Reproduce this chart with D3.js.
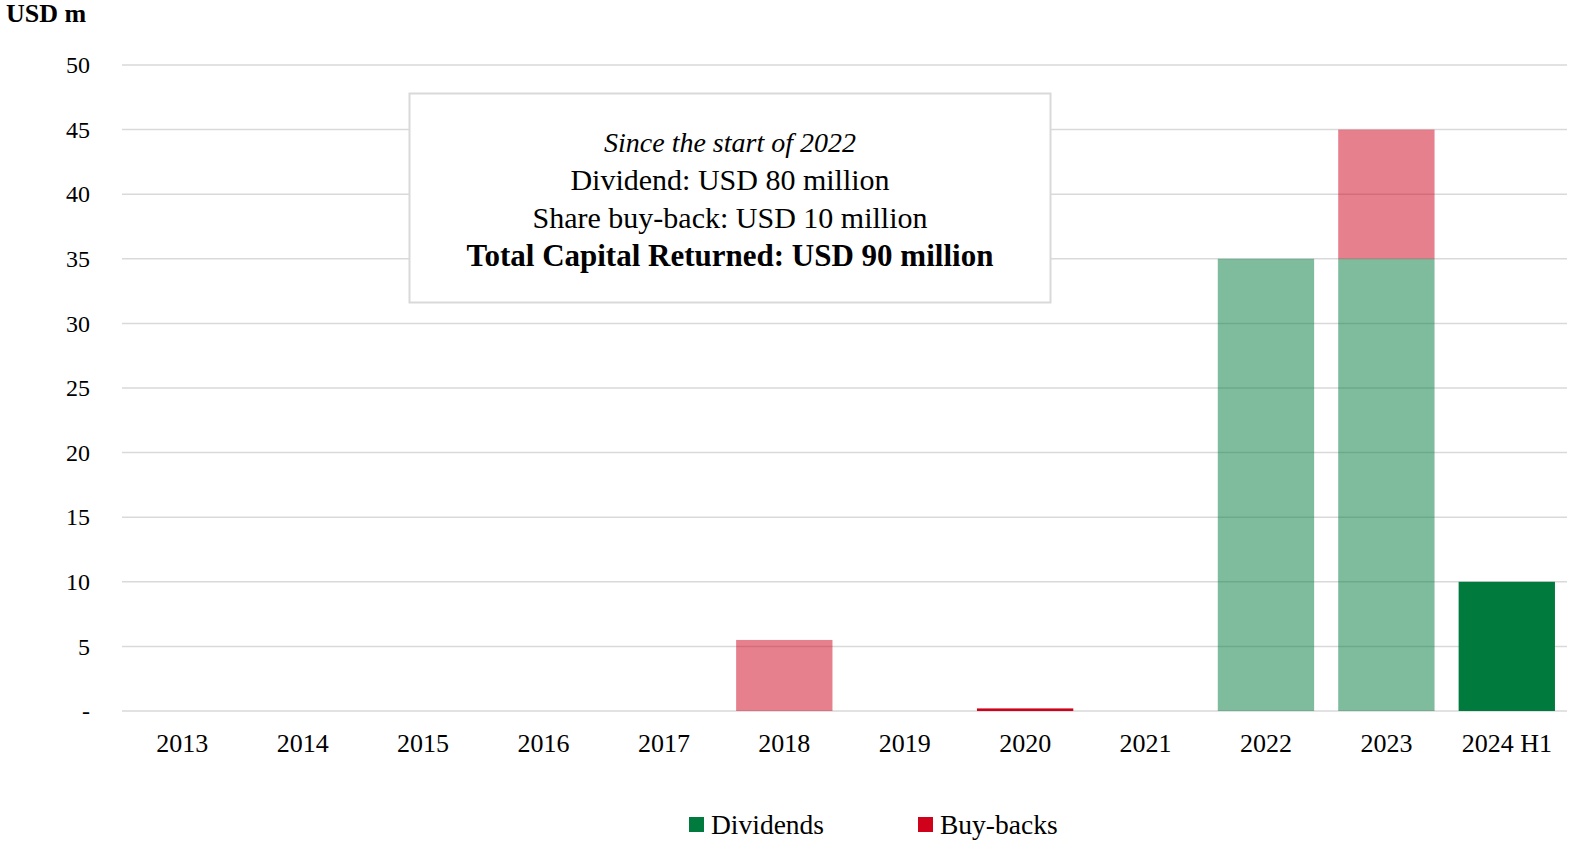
<!DOCTYPE html>
<html><head><meta charset="utf-8">
<script src="https://cdn.jsdelivr.net/npm/d3@7"></script>
<style>
html,body{margin:0;padding:0;background:#fff;overflow:hidden;width:1584px;height:849px;}
svg{display:block;}
svg text{font-family:"Liberation Serif","DejaVu Serif",serif;fill:#000;}
</style></head>
<body><svg id="c" width="1584" height="849"></svg>
<script>
const categories = ["2013","2014","2015","2016","2017","2018","2019","2020","2021","2022","2023","2024 H1"];
const dividends  = [0,0,0,0,0,0,0,0,0,35,35,10];
const buybacks   = [0,0,0,0,0,5.5,0,0.2,0,0,10,0];
const yTicks     = [0,5,10,15,20,25,30,35,40,45,50];
const seriesNames = ["Dividends","Buy-backs"];
const annotationLines = ["Since the start of  2022","Dividend: USD 80 million","Share buy-back: USD 10 million","Total Capital Returned: USD 90 million"];

const svg = d3.select("#c");
const colors = {Dividends:"#007A3D", "Buy-backs":"#D0021B"};
const faded = new Set(["2018","2022","2023"]);

const x = d3.scaleBand().domain(categories).range([122,1567]).paddingInner(0.2).paddingOuter(0.1);
const y = d3.scaleLinear().domain([0,50]).range([711,65]);

// gridlines
svg.append("g").selectAll("line").data(yTicks).join("line")
  .attr("x1",122).attr("x2",1567)
  .attr("y1",d=>y(d)).attr("y2",d=>y(d))
  .attr("stroke","#d9d9d9").attr("stroke-width",1.5);

// y axis labels
const yAxis = d3.axisLeft(y).tickValues(yTicks).tickSize(0).tickPadding(0)
  .tickFormat(d=>d===0?"-":d);
const gy = svg.append("g").attr("transform","translate(90,0)").call(yAxis);
gy.select(".domain").remove();
gy.selectAll("text").style("font-size","24px").attr("font-family","Liberation Serif").attr("fill","#000");

// x axis labels
const xAxis = d3.axisBottom(x).tickSize(0).tickPadding(0);
const gx = svg.append("g").attr("transform","translate(0,734)").call(xAxis);
gx.select(".domain").remove();
gx.selectAll("text").style("font-size","26px").attr("font-family","Liberation Serif").attr("fill","#000");

// stacked bars
const rows = categories.map((c,i)=>({cat:c, Dividends:dividends[i], "Buy-backs":buybacks[i]}));
const stack = d3.stack().keys(seriesNames)(rows);
svg.append("g").selectAll("g").data(stack).join("g")
  .attr("fill",s=>colors[s.key])
  .selectAll("rect").data(s=>s.filter(d=>d[1]-d[0]>0)).join("rect")
  .attr("x",d=>x(d.data.cat)).attr("width",x.bandwidth())
  .attr("y",d=>y(d[1])).attr("height",d=>y(d[0])-y(d[1]))
  .attr("fill-opacity",d=>faded.has(d.data.cat)?0.5:1);

// title
svg.append("text").attr("x",6).attr("y",22).style("font-size","26px").style("font-weight","bold").text("USD m");

// annotation box
svg.append("rect").attr("x",409.5).attr("y",93.5).attr("width",641).attr("height",209)
  .attr("fill","#fff").attr("stroke","#d9d9d9").attr("stroke-width",2);
const ay = [152,190,228,266];
const asz = [28,30,30,31];
annotationLines.forEach((t,i)=>{
  svg.append("text").attr("x",730).attr("y",ay[i]).attr("text-anchor","middle")
    .style("font-size",asz[i]+"px")
    .style("font-style",i===0?"italic":"normal")
    .style("font-weight",i===3?"bold":"normal")
    .text(t);
});

// legend
const lx = [689,918];
seriesNames.forEach((n,i)=>{
  svg.append("rect").attr("x",lx[i]).attr("y",817).attr("width",15).attr("height",15).attr("fill",colors[n]);
  svg.append("text").attr("x",lx[i]+22).attr("y",834).style("font-size","27.5px").text(n);
});
</script></body></html>
